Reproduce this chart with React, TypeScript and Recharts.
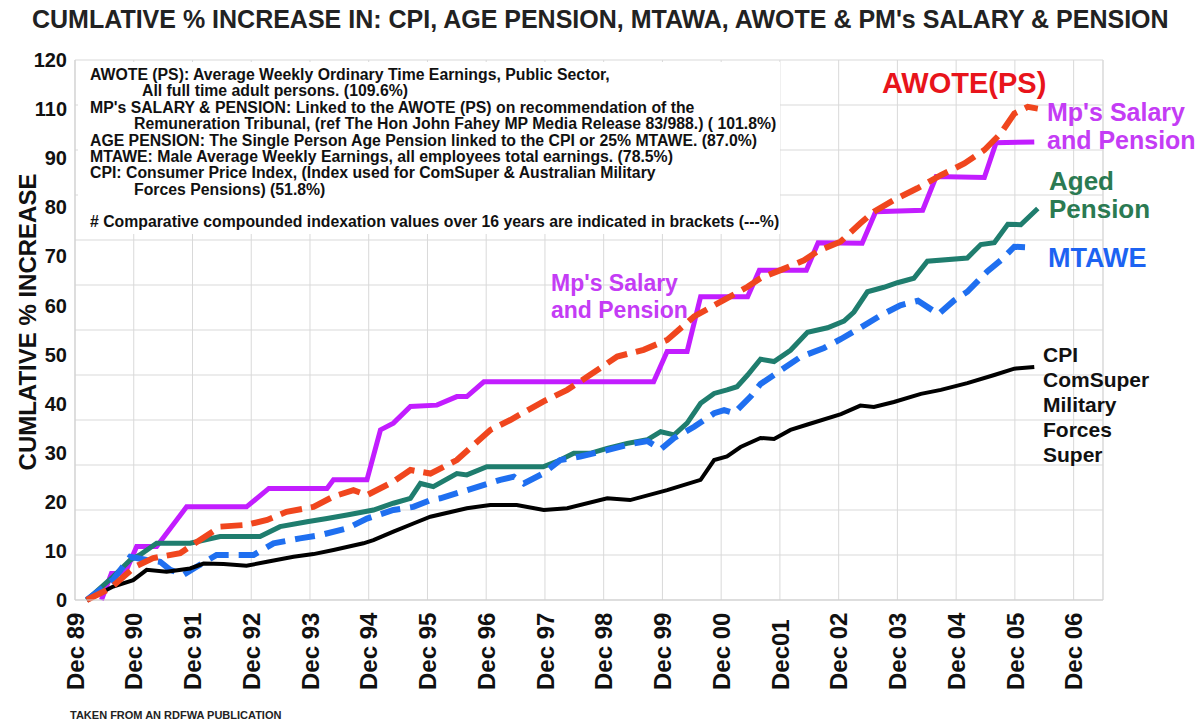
import React from 'react';
import { LineChart, Line, XAxis, YAxis, CartesianGrid, ReferenceLine } from 'recharts';

// x = years after Dec 89, y = cumulative % increase
const yearTicks = [0, 1, 2, 3, 4, 5, 6, 7, 8, 9, 10, 11, 12, 13, 14, 15, 16, 17];
const yearLabels = ['Dec 89', 'Dec 90', 'Dec 91', 'Dec 92', 'Dec 93', 'Dec 94', 'Dec 95', 'Dec 96', 'Dec 97', 'Dec 98', 'Dec 99', 'Dec 00', 'Dec01', 'Dec 02', 'Dec 03', 'Dec 04', 'Dec 05', 'Dec 06'];
const xEnd = 17.5;
const yMax = 120;
const gridValues = [0, 10, 20, 30, 40, 50, 60, 70, 80, 90, 100, 110, 120];
// the printed scale skips 100 and its labels are spread evenly down the axis
const yTickLabels = ['0', '10', '20', '30', '40', '50', '60', '70', '80', '90', '110', '120'];

const awote = [
  [0.2, 0], [0.6, 2.6], [1.02, 7.4], [1.33, 9.3], [1.79, 10.4], [1.96, 11.9], [2.47, 16.3], [2.92, 16.7],
  [3.27, 17.8], [3.6, 19.6], [4.06, 20.7], [4.4, 23], [4.74, 24.4], [4.97, 23.3], [5.42, 26.3], [5.71, 28.9],
  [6.05, 28.1], [6.5, 31.1], [7.07, 37.8], [7.41, 40], [7.97, 44.1], [8.38, 46.7], [8.72, 49.6], [9.23, 54.1],
  [9.68, 55.6], [10.08, 57.8], [10.54, 63], [11.05, 66.7], [11.45, 69.6], [11.67, 71.5], [12.01, 73.3],
  [12.41, 75.5], [12.64, 77.5], [13.03, 79.6], [13.37, 83.7], [13.6, 86.3], [13.94, 88.9], [14.34, 91.5],
  [14.74, 94.4], [15.14, 97], [15.48, 100], [15.76, 103.7], [15.99, 108.1], [16.22, 109.6], [16.39, 109.2],
];

const mps = [
  [0.45, 0], [0.62, 5.9], [0.85, 5.9], [1.05, 11.9], [1.39, 11.9], [1.9, 20.7], [2.92, 20.7], [3.3, 24.8],
  [4.29, 24.8], [4.4, 26.7], [4.97, 26.7], [5.2, 37.8], [5.42, 39.3], [5.71, 43], [6.16, 43.3], [6.5, 45.2],
  [6.67, 45.2], [6.96, 48.5], [9.85, 48.5], [10.08, 55.2], [10.42, 55.2], [10.65, 67.4], [11.45, 67.4],
  [11.65, 73.3], [12.45, 73.3], [12.65, 79.4], [13.4, 79.3], [13.63, 86.3], [14.43, 86.6], [14.66, 94.1],
  [15.48, 93.9], [15.68, 101.6], [16.33, 101.8],
];

const agePension = [
  [0.2, 0], [0.65, 5.2], [0.94, 8.9], [1.1, 10], [1.39, 12.6], [1.96, 12.6], [2.47, 14.1], [3.15, 14.1],
  [3.49, 16.3], [3.95, 17.4], [4.29, 18.1], [4.63, 18.9], [5.08, 20], [5.42, 21.5], [5.71, 22.6], [5.88, 25.9],
  [6.1, 25.2], [6.5, 28.1], [6.67, 27.8], [7.01, 29.6], [7.97, 29.6], [8.26, 31.1], [8.49, 32.6], [8.77, 32.6],
  [9.06, 33.7], [9.4, 34.8], [9.74, 35.6], [9.97, 37.4], [10.2, 36.7], [10.42, 39.3], [10.65, 43.7],
  [10.88, 45.9], [11.1, 46.7], [11.27, 47.4], [11.45, 50], [11.67, 53.5], [11.9, 53], [12.18, 55.5],
  [12.47, 59.5], [12.81, 60.5], [13.09, 62], [13.26, 64], [13.49, 68.5], [13.77, 69.5], [14, 70.5],
  [14.28, 71.5], [14.51, 75.3], [15.19, 76], [15.42, 79], [15.65, 79.4], [15.88, 83.5], [16.1, 83.4], [16.39, 87],
];

const mtawe = [
  [0.2, 0], [0.65, 4.5], [0.94, 9.6], [1.22, 8.9], [1.45, 8.5], [1.62, 6.7], [1.85, 5.6], [2.07, 7.4],
  [2.41, 10], [3.04, 10], [3.38, 12.6], [3.83, 13.7], [4.17, 14.4], [4.63, 15.9], [4.97, 18.1], [5.42, 20],
  [5.76, 20.7], [6.05, 22.2], [6.22, 22.6], [6.67, 24.4], [7.24, 26.7], [7.47, 27.4], [7.64, 25.9], [7.97, 28.1],
  [8.26, 31.1], [8.6, 31.9], [9.06, 33.3], [9.51, 34.8], [9.75, 35.3], [9.97, 33.5], [10.2, 36], [10.54, 38.5],
  [10.88, 41.5], [11.05, 42.2], [11.22, 41.5], [11.5, 45.2], [11.67, 48], [12.01, 51], [12.35, 54], [12.75, 56],
  [13.04, 58], [13.37, 60.5], [13.71, 63.2], [14.05, 65.5], [14.35, 66.5], [14.7, 63.5], [14.96, 66.5],
  [15.19, 68.5], [15.53, 73], [15.76, 75.5], [15.99, 78.5], [16.33, 78.3],
];

const cpi = [
  [0.2, 0], [0.65, 3], [0.99, 4.4], [1.22, 6.7], [1.56, 6.3], [1.96, 7], [2.19, 8.1], [2.53, 8], [2.92, 7.6],
  [3.27, 8.5], [3.72, 9.6], [4.06, 10.2], [4.4, 11.1], [4.91, 12.6], [5.08, 13.3], [5.42, 15.2], [5.76, 17],
  [6.05, 18.5], [6.67, 20.4], [7.07, 21.1], [7.52, 21.1], [7.98, 20], [8.38, 20.4], [9.06, 22.6], [9.45, 22.2],
  [10.08, 24.4], [10.65, 26.7], [10.88, 31.1], [11.1, 31.9], [11.33, 34], [11.67, 36], [11.9, 35.8],
  [12.18, 37.8], [12.47, 39], [13.04, 41.3], [13.37, 43.2], [13.6, 42.9], [13.94, 44], [14.4, 45.8],
  [14.74, 46.7], [15.19, 48.2], [15.65, 50], [15.99, 51.4], [16.33, 51.8],
];

const toPoints = (rows: number[][]) => rows.map(([t, v]) => ({ t, v }));

// label i sits at an even step of the axis, as printed on the original
const labelStep = yMax / (yTickLabels.length - 1);
const labelTicks = yTickLabels.map((_, i) => i * labelStep);

const font = "'Liberation Sans', Arial, sans-serif";

function YearTick({ x, y, payload }: any) {
  const label = yearLabels[yearTicks.indexOf(payload.value)];
  const by = y + 82;
  return (
    <text x={x} y={by} transform={`rotate(-90 ${x} ${by})`} textAnchor="start" dy="0.36em"
      fontSize={24} fontWeight="bold" fill="#111" fontFamily={font}>
      {label}
    </text>
  );
}

const abs = (left: number, top: number, extra: React.CSSProperties = {}): React.CSSProperties => ({
  position: 'absolute', left, top, whiteSpace: 'nowrap', fontWeight: 'bold', fontFamily: font, ...extra,
});

export default function App() {
  return (
    <div style={{ position: 'absolute', left: 0, top: 0, width: 1203, height: 724, background: '#fff', overflow: 'hidden', fontFamily: font }}>
      <LineChart width={1203} height={724} margin={{ top: 60, right: 100, bottom: 0, left: 0 }}>
        <CartesianGrid stroke="#d9d9d9" horizontal={false} />
        {gridValues.map((g) => (
          <ReferenceLine key={g} y={g} stroke="#d9d9d9" />
        ))}
        <ReferenceLine x={xEnd} stroke="#d9d9d9" />
        <XAxis type="number" dataKey="t" domain={[0, xEnd]} ticks={yearTicks} interval={0} height={124}
          tick={<YearTick />} tickLine={false} axisLine={{ stroke: '#cfcfcf' }} allowDataOverflow />
        <YAxis type="number" domain={[0, yMax]} ticks={labelTicks} interval={0} width={75}
          tickFormatter={(v: number) => yTickLabels[Math.round(v / labelStep)]} tickLine={false}
          axisLine={{ stroke: '#cfcfcf' }} tick={{ fontSize: 20, fontWeight: 'bold', fill: '#111', fontFamily: font }} />
        <Line data={toPoints(mps)} dataKey="v" type="linear" stroke="#c21dff" strokeWidth={5} dot={false} isAnimationActive={false} />
        <Line data={toPoints(agePension)} dataKey="v" type="linear" stroke="#1f7d6e" strokeWidth={5} dot={false} isAnimationActive={false} />
        <Line data={toPoints(mtawe)} dataKey="v" type="linear" stroke="#1f6ff0" strokeWidth={6} strokeDasharray="20 10" dot={false} isAnimationActive={false} />
        <Line data={toPoints(cpi)} dataKey="v" type="linear" stroke="#000" strokeWidth={4} dot={false} isAnimationActive={false} />
        <Line data={toPoints(awote)} dataKey="v" type="linear" stroke="#f0461e" strokeWidth={6} strokeDasharray="22 9" dot={false} isAnimationActive={false} />
      </LineChart>

      <div style={abs(32, 5, { fontSize: 25, color: '#222' })}>
        CUMLATIVE % INCREASE IN: CPI, AGE PENSION, MTAWA, AWOTE &amp; PM's SALARY &amp; PENSION
      </div>

      <div style={abs(28, 322, { fontSize: 24, color: '#111', transform: 'translate(-50%, -50%) rotate(-90deg)' })}>
        CUMLATIVE % INCREASE
      </div>

      <div style={abs(78, 62, { width: 702, height: 172, background: '#fff', fontSize: 15.8, lineHeight: '16.4px', color: '#111', paddingTop: 5, paddingLeft: 12, boxSizing: 'border-box' })}>
        <div>AWOTE (PS): Average Weekly Ordinary Time Earnings, Public Sector,</div>
        <div style={{ paddingLeft: 52 }}>All full time adult persons. (109.6%)</div>
        <div>MP's SALARY &amp; PENSION: Linked to the AWOTE (PS) on recommendation of the</div>
        <div style={{ paddingLeft: 44 }}>Remuneration Tribunal, (ref The Hon John Fahey MP Media Release 83/988.) ( 101.8%)</div>
        <div>AGE PENSION: The Single Person Age Pension linked to the CPI or 25% MTAWE. (87.0%)</div>
        <div>MTAWE: Male Average Weekly Earnings, all employees total earnings. (78.5%)</div>
        <div>CPI: Consumer Price Index, (Index used for ComSuper &amp; Australian Military</div>
        <div style={{ paddingLeft: 44 }}>Forces Pensions) (51.8%)</div>
        <div style={{ marginTop: 16 }}># Comparative compounded indexation values over 16 years are indicated in brackets (---%)</div>
      </div>

      <div style={abs(882, 66, { fontSize: 29, lineHeight: '34px', color: '#e8141b' })}>AWOTE(PS)</div>
      <div style={abs(1047, 98, { fontSize: 25, lineHeight: '28px', color: '#c43cf5' })}>Mp's Salary<br />and Pension</div>
      <div style={abs(1049, 167, { fontSize: 26, lineHeight: '28px', color: '#2b7a52' })}>Aged<br />Pension</div>
      <div style={abs(1048, 242, { fontSize: 27, lineHeight: '32px', color: '#1d63f2' })}>MTAWE</div>
      <div style={abs(1043, 342, { fontSize: 21, lineHeight: '25px', color: '#111' })}>CPI<br />ComSuper<br />Military<br />Forces<br />Super</div>
      <div style={abs(551, 270, { fontSize: 23, lineHeight: '27px', color: '#c43cf5' })}>Mp's Salary<br />and Pension</div>

      <div style={abs(70, 709, { fontSize: 11, color: '#222', fontFamily: "'Liberation Sans Narrow', 'Liberation Sans', Arial, sans-serif" })}>
        TAKEN FROM AN RDFWA PUBLICATION
      </div>
    </div>
  );
}
